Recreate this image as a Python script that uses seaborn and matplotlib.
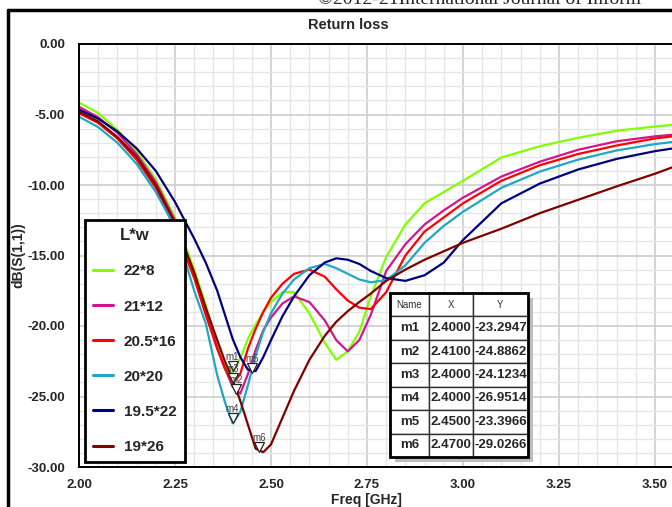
import matplotlib
matplotlib.use("Agg")
import matplotlib.pyplot as plt
import matplotlib.transforms as mtransforms
from matplotlib.lines import Line2D
from matplotlib.patches import Rectangle
from matplotlib.ticker import MultipleLocator
import numpy as np
import pandas as pd
import seaborn as sns

# frequences (GHz)
freq = [2.00, 2.05, 2.10, 2.15, 2.20, 2.25, 2.30, 2.33, 2.36, 2.38,
        2.40, 2.42, 2.44, 2.46, 2.48, 2.50, 2.53, 2.56, 2.60, 2.64,
        2.67, 2.70, 2.73, 2.76, 2.80, 2.85, 2.90, 2.95, 3.00, 3.10,
        3.20, 3.30, 3.40, 3.50, 3.56]

# dB(S(1,1)) pour chaque L*w
s_22x8 = [-4.15, -4.9, -6.1, -7.6, -9.6, -12.3, -16.0, -18.5, -21.3, -22.7,
          -23.3, -22.3, -20.9, -19.9, -19.0, -18.3, -17.6, -17.6, -19.1, -21.2,
          -22.4, -21.8, -20.4, -17.9, -15.1, -12.8, -11.3, -10.5, -9.7, -8.05,
          -7.25, -6.65, -6.15, -5.85, -5.7]
s_21x12 = [-4.45, -5.2, -6.3, -7.8, -9.8, -12.5, -16.3, -19.0, -21.6, -23.0,
           -24.3, -24.8, -23.4, -21.7, -20.3, -19.4, -18.4, -17.9, -18.3, -19.6,
           -21.0, -21.8, -21.0, -19.2, -16.1, -14.2, -12.8, -11.8, -10.9, -9.4,
           -8.35, -7.5, -6.9, -6.55, -6.4]
s_205x16 = [-4.9, -5.6, -6.7, -8.2, -10.2, -13.1, -16.6, -19.2, -21.6, -23.0,
            -24.1, -23.4, -21.6, -20.2, -19.0, -18.0, -17.0, -16.3, -16.0, -16.5,
            -17.4, -18.2, -18.7, -18.8, -17.6, -15.0, -13.3, -12.3, -11.3, -9.7,
            -8.6, -7.8, -7.2, -6.7, -6.5]
s_20x20 = [-5.15, -5.9, -7.0, -8.5, -10.5, -13.0, -17.5, -19.8, -23.5, -25.4,
           -26.9, -26.1, -24.2, -22.1, -20.4, -19.1, -17.7, -16.7, -15.9, -15.6,
           -15.9, -16.3, -16.7, -16.9, -16.75, -15.7, -14.1, -12.9, -11.9, -10.2,
           -9.05, -8.2, -7.55, -7.1, -6.9]
s_195x22 = [-4.65, -5.3, -6.2, -7.4, -9.0, -11.2, -13.8, -15.5, -17.5, -19.2,
            -20.9, -22.2, -23.1, -23.2, -22.2, -21.0, -19.3, -17.9, -16.4, -15.5,
            -15.2, -15.3, -15.6, -16.1, -16.6, -16.8, -16.4, -15.5, -13.9, -11.3,
            -9.9, -8.9, -8.15, -7.6, -7.35]
s_19x26 = [-4.8, -5.5, -6.6, -8.0, -10.0, -12.7, -16.2, -18.7, -21.0, -22.5,
           -23.8, -25.3, -27.0, -28.7, -28.95, -28.4, -26.5, -24.6, -22.4, -20.7,
           -19.7, -18.95, -18.3, -17.7, -16.8, -16.0, -15.3, -14.7, -14.1, -13.1,
           -12.0, -11.05, -10.1, -9.2, -8.6]

sizes = ["22*8", "21*12", "20.5*16", "20*20", "19.5*22", "19*26"]
colors = ["#80FF00", "#D6148C", "#FF0000", "#1FA8C2", "#000080", "#800000"]

# marqueurs
m_names = ["m1", "m2", "m3", "m4", "m5", "m6"]
m_x = [2.40, 2.41, 2.40, 2.40, 2.45, 2.47]
m_y = [-23.2947, -24.8862, -24.1234, -26.9514, -23.3966, -29.0266]

series = [s_22x8, s_21x12, s_205x16, s_20x20, s_195x22, s_19x26]
df = pd.concat(
    [pd.DataFrame({"freq": freq, "db": s, "size": name}) for name, s in zip(sizes, series)],
    ignore_index=True,
)

sns.set_style("white")
plt.rcParams['font.family'] = ['Liberation Sans Narrow', 'Liberation Sans', 'DejaVu Sans']

fig = plt.figure(figsize=(6.72, 5.07), dpi=100)
ax = fig.add_axes([79 / 672, 40 / 507, 599 / 672, 423 / 507])

# grille fine puis grille principale
ax.xaxis.set_major_locator(MultipleLocator(0.25))
ax.xaxis.set_minor_locator(MultipleLocator(0.05))
ax.yaxis.set_major_locator(MultipleLocator(5))
ax.yaxis.set_minor_locator(MultipleLocator(1))
ax.grid(which="minor", color="#E6E6E6", linewidth=1.0)
ax.grid(which="major", color="#CDCDCD", linewidth=1.2)
ax.set_axisbelow(True)

sns.lineplot(data=df, x="freq", y="db", hue="size", hue_order=sizes,
             palette=colors, linewidth=1.6, ax=ax, estimator=None)

ax.set_xlim(2.0, 3.56)
ax.set_ylim(-30, 0)
ax.set_xlabel("")
ax.set_ylabel("")
ax.set_xticks([2.0, 2.25, 2.5, 2.75, 3.0, 3.25, 3.5])
ax.set_xticklabels(["2.00", "2.25", "2.50", "2.75", "3.00", "3.25", "3.50"])
ax.set_yticks(np.arange(-30, 1, 5))
ax.set_yticklabels([f"{v:.2f}" for v in np.arange(-30, 1, 5)])
ax.tick_params(axis="both", which="major", direction="out", length=7, width=1.2,
               labelsize=9.5, pad=3, color="black")
ax.tick_params(axis="x", which="major", pad=1.5)
ax.tick_params(axis="both", which="minor", direction="out", length=4, width=1, color="black")
for lab in ax.get_xticklabels() + ax.get_yticklabels():
    lab.set_fontweight("bold")
for side in ["left", "bottom", "top"]:
    ax.spines[side].set_color("black")
    ax.spines[side].set_linewidth(1.4)
ax.spines["right"].set_visible(False)

# triangles et noms des marqueurs
tri = mtransforms.offset_copy(ax.transData, fig=fig, x=0, y=4.5, units="points")
ax.plot(m_x, m_y, linestyle="none", marker="v", markersize=7, markerfacecolor="white",
        markeredgecolor="#202020", markeredgewidth=0.9, transform=tri, zorder=5)
for name, x, y in zip(m_names, m_x, m_y):
    ax.annotate(name, (x, y), xytext=(0, 11), textcoords="offset points",
                ha="center", va="center", fontsize=7, color="#404040", zorder=6)

# legende
handles, labels = ax.get_legend_handles_labels()
leg = ax.legend(handles, labels, title="L*w", loc="upper left",
                bbox_to_anchor=(6 / 599, (467 - 220) / 423), frameon=True,
                fancybox=False, framealpha=1, edgecolor="black",
                prop={"size": 11, "weight": "bold"}, labelspacing=1.38,
                handlelength=1.3, handletextpad=0.7, borderpad=0.55,
                borderaxespad=0)
leg.get_title().set_fontsize(12)
leg.get_title().set_fontweight("bold")
leg.get_frame().set_linewidth(2)
for h in leg.legend_handles:
    h.set_linewidth(2.2)

# tableau des marqueurs avec ombre
tx0, ty0 = (390 - 79) / 599, (467 - 457) / 423
tw, th = (528 - 390) / 599, (457 - 293) / 423
ax.add_patch(Rectangle((tx0 + 5 / 599, ty0 - 5 / 423), tw, th, transform=ax.transAxes,
                       facecolor="#BDBDBD", edgecolor="none", zorder=7))
cells = [[n, f"{x:.4f}", f"{y:.4f}"] for n, x, y in zip(m_names, m_x, m_y)]
table = ax.table(cellText=cells, colLabels=["Name", "X", "Y"],
                 colWidths=[0.28, 0.32, 0.40],
                 bbox=[tx0, ty0, tw, th], cellLoc="center", zorder=8)
table.auto_set_font_size(False)
for (r, c), cell in table.get_celld().items():
    cell.set_edgecolor("#303030")
    cell.set_linewidth(1.0)
    cell.set_facecolor("white")
    cell.PAD = 0.02
    if r == 0:
        cell.get_text().set_fontsize(7)
        cell.get_text().set_color("#303030")
    else:
        cell.get_text().set_fontsize(9.5)
        cell.get_text().set_fontweight("bold")
ax.add_patch(Rectangle((tx0, ty0), tw, th, transform=ax.transAxes, fill=False,
                       edgecolor="black", linewidth=2, zorder=9))

# textes de la figure
fig.text(348 / 672, 1 - 25 / 507, "Return loss", ha="center", va="center",
         fontsize=10.5, fontweight="bold")
fig.text(18 / 672, 1 - 255 / 507, "dB(S(1,1))", ha="center", va="center",
         rotation=90, fontsize=10, fontweight="bold")
fig.text(366 / 672, 1 - 500 / 507, "Freq [GHz]", ha="center", va="center",
         fontsize=10, fontweight="bold")
fig.text(318 / 672, 1 + 1 / 507, "©2012-21International Journal of Inform",
         ha="left", va="center", fontsize=14, family=["Liberation Serif", "DejaVu Serif"])

# cadre exterieur
fig.add_artist(Line2D([8 / 672, 1], [1 - 10 / 507, 1 - 10 / 507], color="black", linewidth=2.5))
fig.add_artist(Line2D([8 / 672, 8 / 672], [0, 1 - 10 / 507], color="black", linewidth=2.5))

fig.savefig("out.png", dpi=100)
